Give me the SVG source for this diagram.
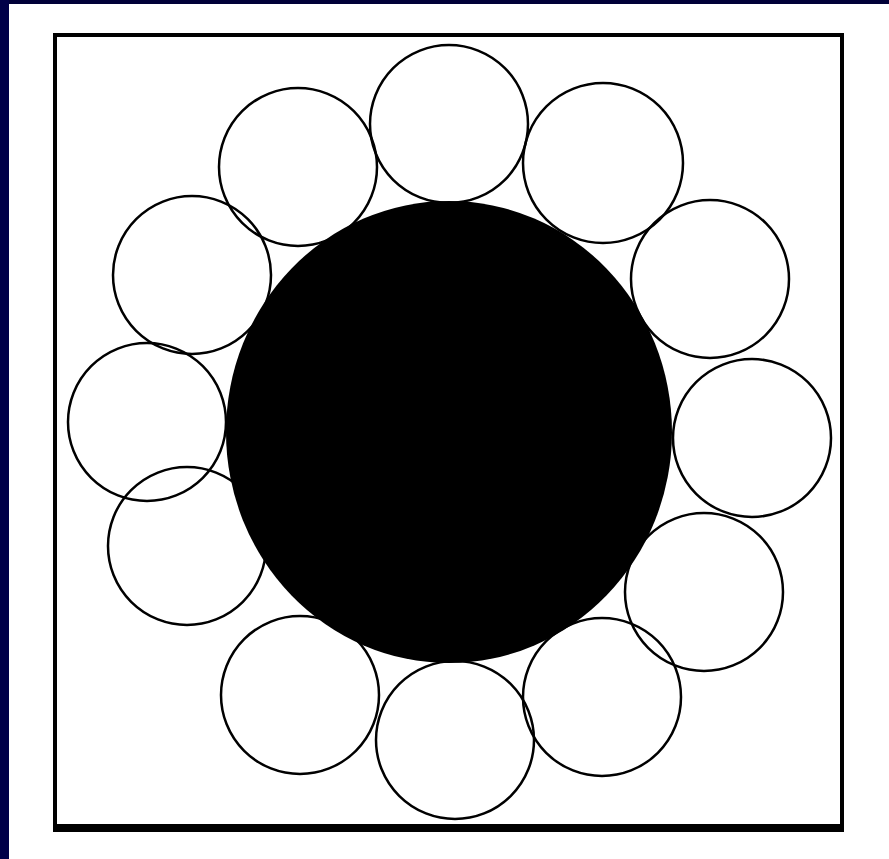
<svg xmlns="http://www.w3.org/2000/svg" width="889" height="859" viewBox="0 0 889 859">
<style>
.ring{fill:#ffffff;fill-opacity:0;stroke:#000;stroke-width:2.5}
</style>
<rect x="0" y="0" width="889" height="859" fill="#ffffff"/>
<rect x="0" y="0" width="889" height="4" fill="#000038"/>
<rect x="0" y="0" width="9" height="859" fill="#000048"/>
<rect x="55" y="35" width="787" height="793" fill="none" stroke="#000" stroke-width="4"/>
<rect x="53" y="824" width="791" height="8" fill="#000"/>
<g id="center"><ellipse cx="449" cy="432" rx="223" ry="231" fill="#000"/></g>
<g id="c1"><circle class="ring" cx="449" cy="124" r="79"/></g>
<g id="c2"><circle class="ring" cx="603" cy="163" r="80"/></g>
<g id="c3"><circle class="ring" cx="710" cy="279" r="79"/></g>
<g id="c4"><circle class="ring" cx="752" cy="438" r="79"/></g>
<g id="c5"><circle class="ring" cx="704" cy="592" r="79"/></g>
<g id="c6"><circle class="ring" cx="602" cy="697" r="79"/></g>
<g id="c7"><circle class="ring" cx="455" cy="740" r="79"/></g>
<g id="c8"><circle class="ring" cx="300" cy="695" r="79"/></g>
<g id="c9"><circle class="ring" cx="187" cy="546" r="79"/></g>
<g id="c10"><circle class="ring" cx="147" cy="422" r="79"/></g>
<g id="c11"><circle class="ring" cx="192" cy="275" r="79"/></g>
<g id="c12"><circle class="ring" cx="298" cy="167" r="79"/></g>
</svg>
